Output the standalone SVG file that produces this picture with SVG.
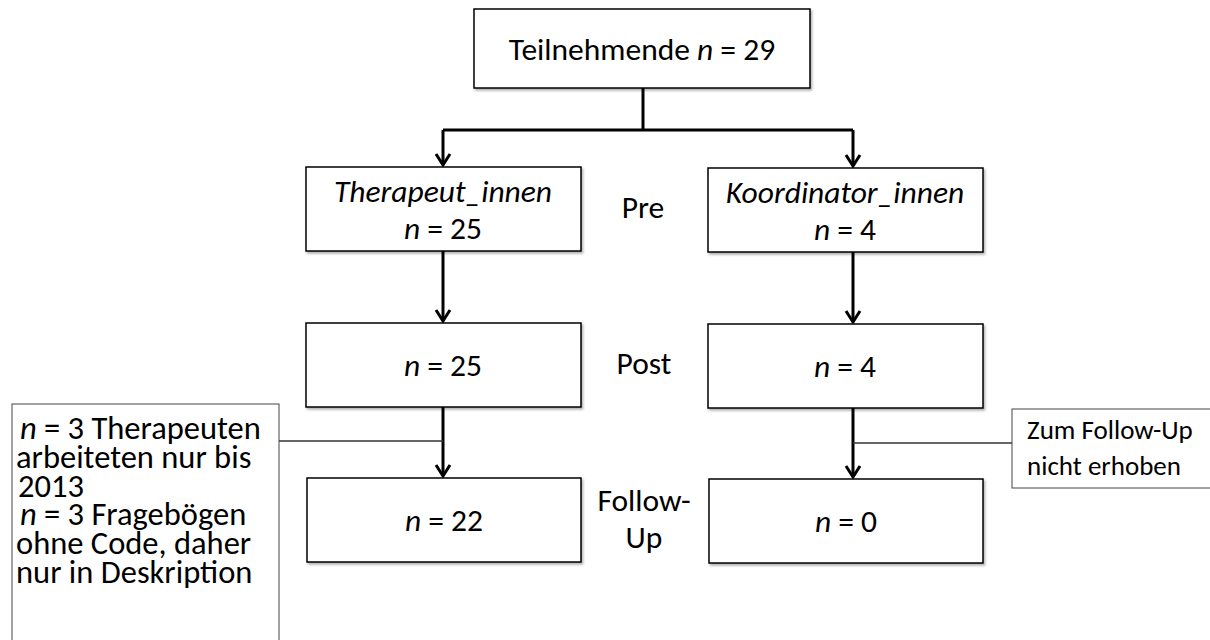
<svg xmlns="http://www.w3.org/2000/svg" width="1210" height="640" viewBox="0 0 1210 640">
<style>
.box{fill:#fff;stroke:#000;stroke-width:1.5}
.note{fill:#fff;stroke:#444;stroke-width:1}
.t{font-family:Carlito,Lato,"Open Sans",sans-serif;fill:#000;font-size:31.5px}
.ln{font-size:32.5px}
.rn{font-size:27px}
.c{text-anchor:middle}
.i{font-style:italic}
.arrow{fill:none;stroke:#000;stroke-width:3}
.thin{fill:none;stroke:#333;stroke-width:1.3}
</style>
<defs>
<filter id="sh" x="-5%" y="-5%" width="110%" height="120%">
<feDropShadow dx="1.5" dy="2" stdDeviation="1" flood-color="#000" flood-opacity="0.3"/>
</filter>
<marker id="ah" viewBox="-14 -10 16 20" markerWidth="16" markerHeight="20" refX="0" refY="0" orient="auto" markerUnits="userSpaceOnUse" overflow="visible">
<path d="M-11,-7 L0,0 L-11,7" fill="none" stroke="#000" stroke-width="3"/>
</marker>
</defs>
<rect width="1210" height="640" fill="#fff"/>
<g id="connectors">
<path class="arrow" d="M643,88 V130"/>
<path class="arrow" d="M443,130 H853"/>
<path class="arrow" d="M443,130 V165" marker-end="url(#ah)"/>
<path class="arrow" d="M853,130 V166" marker-end="url(#ah)"/>
<path class="arrow" d="M443,251 V321" marker-end="url(#ah)"/>
<path class="arrow" d="M853,252 V322" marker-end="url(#ah)"/>
<path class="arrow" d="M443,407 V476" marker-end="url(#ah)"/>
<path class="arrow" d="M853,408 V477" marker-end="url(#ah)"/>
<path class="thin" d="M279,441 H443"/>
<path class="thin" d="M853,443 H1012"/>
</g>
<g id="n-total">
<rect class="box" x="474" y="9" width="336" height="79" filter="url(#sh)"/>
<text class="t c" x="642" y="60">Teilnehmende <tspan class="i">n</tspan> = 29</text>
</g>
<g id="n-ther-pre">
<rect class="box" x="306" y="167" width="275" height="84" filter="url(#sh)"/>
<text class="t c i" x="443" y="202">Therapeut_innen</text>
<text class="t c" x="443" y="239"><tspan class="i">n</tspan> = 25</text>
</g>
<g id="n-koord-pre">
<rect class="box" x="708" y="168" width="275" height="84" filter="url(#sh)"/>
<text class="t c i" x="845" y="203">Koordinator_innen</text>
<text class="t c" x="845" y="240"><tspan class="i">n</tspan> = 4</text>
</g>
<g id="n-ther-post">
<rect class="box" x="306" y="323" width="275" height="84" filter="url(#sh)"/>
<text class="t c" x="443" y="376"><tspan class="i">n</tspan> = 25</text>
</g>
<g id="n-koord-post">
<rect class="box" x="708" y="324" width="275" height="84" filter="url(#sh)"/>
<text class="t c" x="845" y="377"><tspan class="i">n</tspan> = 4</text>
</g>
<g id="n-ther-fu">
<rect class="box" x="307" y="478" width="274" height="84" filter="url(#sh)"/>
<text class="t c" x="444" y="531"><tspan class="i">n</tspan> = 22</text>
</g>
<g id="n-koord-fu">
<rect class="box" x="709" y="479" width="274" height="84" filter="url(#sh)"/>
<text class="t c" x="846" y="532"><tspan class="i">n</tspan> = 0</text>
</g>
<g id="labels">
<text class="t c" x="643" y="218">Pre</text>
<text class="t c" x="644" y="374">Post</text>
<text class="t c" x="644" y="511">Follow-</text>
<text class="t c" x="644" y="548">Up</text>
</g>
<g id="note-left">
<rect class="note" x="12" y="404" width="267" height="250"/>
<text class="t ln" x="20" y="439"><tspan class="i">n</tspan> = 3 Therapeuten</text>
<text class="t ln" x="16" y="468">arbeiteten nur bis</text>
<text class="t ln" x="18" y="497">2013</text>
<text class="t ln" x="20" y="525"><tspan class="i">n</tspan> = 3 Fragebögen</text>
<text class="t ln" x="16" y="554">ohne Code, daher</text>
<text class="t ln" x="16" y="583">nur in Deskription</text>
</g>
<g id="note-right">
<rect class="note" x="1012" y="409" width="210" height="79"/>
<text class="t rn" x="1027" y="439">Zum Follow-Up</text>
<text class="t rn" x="1027" y="475">nicht erhoben</text>
</g>
</svg>
